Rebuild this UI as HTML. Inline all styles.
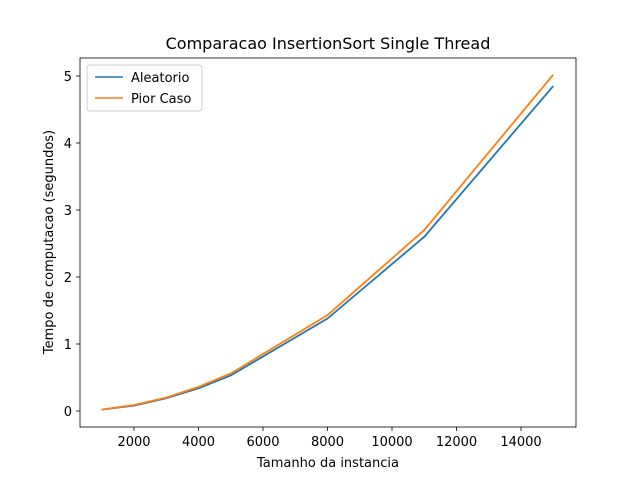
<!DOCTYPE html>
<html><head><meta charset="utf-8"><style>
body{margin:0;background:#fff;}
svg{font-family:"DejaVu Sans","Liberation Sans",sans-serif;}
</style></head><body>
<svg id="chart" width="640" height="480" xmlns="http://www.w3.org/2000/svg">
<rect width="640" height="480" fill="#fff"/>
<text x="328" y="49" text-anchor="middle" font-size="16">Comparacao InsertionSort Single Thread</text>
<g id="plot"></g>
<rect x="80" y="58" width="496" height="369" fill="none" stroke="#000" stroke-width="0.8"/>
<text x="328" y="467" text-anchor="middle" font-size="13">Tamanho da instancia</text>
<text transform="translate(53,242) rotate(-90)" text-anchor="middle" font-size="13">Tempo de computacao (segundos)</text>
<g>
<rect x="87" y="65" width="115" height="46" rx="3" fill="#fff" stroke="#ccc"/>
<line x1="95" y1="77" x2="123" y2="77" stroke="#1f77b4" stroke-width="1.5"/>
<text x="131" y="82" font-size="13">Aleatorio</text>
<line x1="95" y1="98" x2="123" y2="98" stroke="#ff7f0e" stroke-width="1.5"/>
<text x="131" y="103" font-size="13">Pior Caso</text>
</g>
</svg>
<script>
const sizes=[1000,2000,3000,4000,5000,8000,11000,15000];
const aleatorio=[0.02,0.08,0.19,0.34,0.53,1.38,2.6,4.85];
const piorCaso=[0.02,0.09,0.2,0.36,0.56,1.43,2.7,5.02];
const xTicks=[2000,4000,6000,8000,10000,12000,14000];
const yTicks=[0,1,2,3,4,5];
const NS="http://www.w3.org/2000/svg";
const g=document.getElementById('plot');
function xs(v){return 134+(v-2000)*(387/12000);}
function ys(v){return 411-v*67;}
function mk(t,a){const e=document.createElementNS(NS,t);for(const k in a)e.setAttribute(k,a[k]);g.appendChild(e);return e;}
xTicks.forEach(v=>{
  const l=mk('line',{x1:xs(v),x2:xs(v),y1:427,y2:431,stroke:'#000','stroke-width':0.8});
  
  
  const t=mk('text',{x:xs(v),y:446,'text-anchor':'middle','font-size':13});
  t.textContent=v;
  
  
});
yTicks.forEach(v=>{
  const l=mk('line',{x1:76,x2:80,y1:ys(v),y2:ys(v),stroke:'#000','stroke-width':0.8});
  
  
  const t=mk('text',{x:72,y:ys(v)+5,'text-anchor':'end','font-size':13});
  t.textContent=v;
  
  
});
function line(vals,color,name){
  const p=mk('polyline',{points:sizes.map((s,i)=>xs(s)+','+ys(vals[i])).join(' '),fill:'none',stroke:color,'stroke-width':1.8});
  
  
}
line(aleatorio,'#1f77b4','line-aleatorio');
line(piorCaso,'#ff7f0e','line-pior-caso');
</script>
</body></html>
